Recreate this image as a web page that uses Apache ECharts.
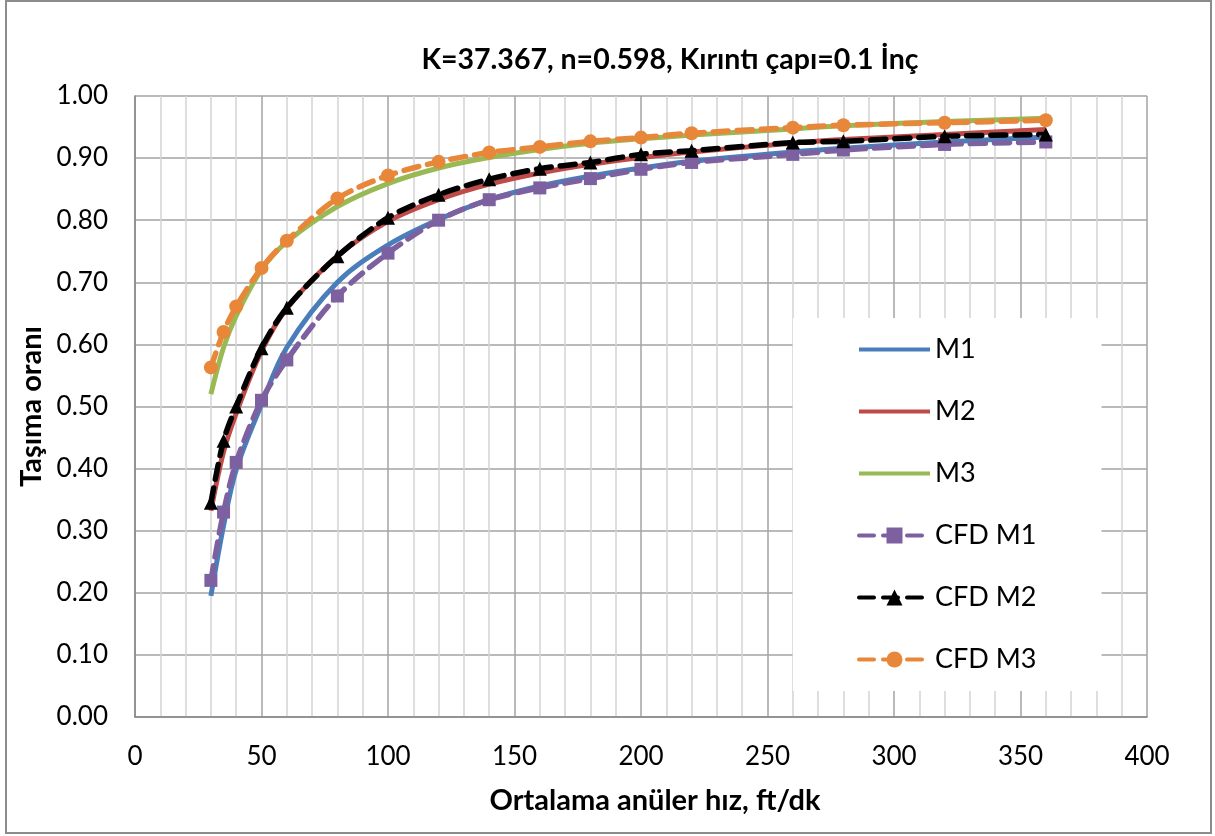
<!DOCTYPE html>
<html><head><meta charset="utf-8">
<script src="https://cdn.jsdelivr.net/npm/echarts@6/dist/echarts.min.js"></script>
<style>html,body{margin:0;padding:0;background:#fff}#c{width:1215px;height:836px}</style>
</head><body><div id="c"></div>
<script>
const titleText = 'K=37.367, n=0.598, Kırıntı çapı=0.1 İnç';
const xAxisName = 'Ortalama anüler hız, ft/dk';
const yAxisName = 'Taşıma oranı';
const seriesNames = ['M1', 'M2', 'M3', 'CFD M1', 'CFD M2', 'CFD M3'];

const xValues = [30, 35, 40, 50, 60, 80, 100, 120, 140, 160, 180, 200, 220, 260, 280, 320, 360];

const m1 = [0.195, 0.308, 0.398, 0.503, 0.595, 0.700, 0.760, 0.801, 0.833, 0.855, 0.871, 0.884, 0.895, 0.910, 0.916, 0.926, 0.934];
const m2 = [0.332, 0.427, 0.489, 0.589, 0.658, 0.742, 0.798, 0.833, 0.858, 0.876, 0.890, 0.901, 0.910, 0.924, 0.930, 0.938, 0.946];
const m3 = [0.520, 0.595, 0.646, 0.720, 0.765, 0.822, 0.859, 0.884, 0.901, 0.914, 0.924, 0.931, 0.937, 0.947, 0.952, 0.959, 0.964];

const cfdM1 = [0.220, 0.330, 0.410, 0.510, 0.575, 0.678, 0.747, 0.800, 0.833, 0.852, 0.867, 0.882, 0.893, 0.906, 0.913, 0.922, 0.926];
const cfdM2 = [0.345, 0.445, 0.500, 0.594, 0.659, 0.742, 0.804, 0.841, 0.866, 0.883, 0.893, 0.906, 0.912, 0.925, 0.927, 0.935, 0.938];
const cfdM3 = [0.563, 0.620, 0.661, 0.723, 0.767, 0.835, 0.872, 0.894, 0.909, 0.918, 0.927, 0.933, 0.940, 0.949, 0.953, 0.957, 0.961];

const FONT = 'Lato';
function pairs(ys) { return xValues.map((x, i) => [x, ys[i]]); }

function modelSeries(name, ys, color) {
  return {
    type: 'line', name: name, data: pairs(ys), smooth: 0.35,
    symbol: 'none', showSymbol: false,
    lineStyle: { color: color, width: 5 },
    itemStyle: { color: color }
  };
}
function cfdSeries(name, ys, color, symbol, size) {
  return {
    type: 'line', name: name, data: pairs(ys), smooth: 0.3,
    symbol: symbol, symbolSize: size, showSymbol: true,
    lineStyle: { color: color, width: 5.5, type: [15, 9], cap: 'round' },
    itemStyle: { color: color }
  };
}

const legendData = seriesNames.map((n, i) => i < 3
  ? { name: n, itemStyle: { opacity: 0 } }
  : { name: n });

const chart = echarts.init(document.getElementById('c'), null, { renderer: 'canvas' });
chart.setOption({
  animation: false,
  backgroundColor: '#fff',
  title: {
    text: titleText, left: 665, top: 40, textAlign: 'center',
    textStyle: { fontFamily: FONT, fontSize: 28.5, fontWeight: 'bold', color: '#000' }
  },
  graphic: [{
    type: 'rect', shape: { x: 6, y: 1, width: 1205, height: 832 },
    style: { fill: 'none', stroke: '#8c8c8c', lineWidth: 2 }, silent: true
  }],
  legend: {
    orient: 'vertical', left: 793, top: 318,
    padding: [18, 65, 18, 64], backgroundColor: '#fff',
    itemWidth: 71, itemHeight: 20, itemGap: 35,
    lineStyle: { width: 4 },
    textStyle: { fontFamily: FONT, fontSize: 27, color: '#000', lineHeight: 27 },
    data: legendData
  },
  grid: { left: 135, right: 68, top: 96, bottom: 119, containLabel: false },
  xAxis: {
    type: 'value', min: 0, max: 400, interval: 50,
    name: xAxisName, nameLocation: 'middle', nameGap: 69,
    nameTextStyle: { fontFamily: FONT, fontSize: 29, fontWeight: 'bold', color: '#000', padding: [0, 0, 0, 28] },
    axisLine: { show: true, lineStyle: { color: '#868686', width: 1.5 } },
    axisTick: { show: false },
    axisLabel: { fontFamily: FONT, fontSize: 26, color: '#000', margin: 27 },
    splitLine: { show: true, lineStyle: { color: '#a3a3a3', width: 1.5 } },
    minorTick: { show: false, splitNumber: 5 },
    minorSplitLine: { show: true, lineStyle: { color: '#d4d4d4', width: 1.5 } }
  },
  yAxis: {
    type: 'value', min: 0, max: 1, interval: 0.1,
    name: yAxisName, nameLocation: 'middle', nameGap: 88,
    nameTextStyle: { fontFamily: FONT, fontSize: 29, fontWeight: 'bold', color: '#000' },
    axisLine: { show: true, lineStyle: { color: '#868686', width: 1.5 } },
    axisTick: { show: false },
    axisLabel: { fontFamily: FONT, fontSize: 26, color: '#000', margin: 27, formatter: v => v.toFixed(2) },
    splitLine: { show: true, lineStyle: { color: '#a3a3a3', width: 1.5 } }
  },
  series: [
    modelSeries('M1', m1, '#4a7ebb'),
    modelSeries('M2', m2, '#be4b48'),
    modelSeries('M3', m3, '#98b954'),
    cfdSeries('CFD M1', cfdM1, '#7d60a0', 'rect', 13),
    cfdSeries('CFD M2', cfdM2, '#000000', 'triangle', 14),
    cfdSeries('CFD M3', cfdM3, '#e8873a', 'circle', 14)
  ]
});
</script>
</body></html>
